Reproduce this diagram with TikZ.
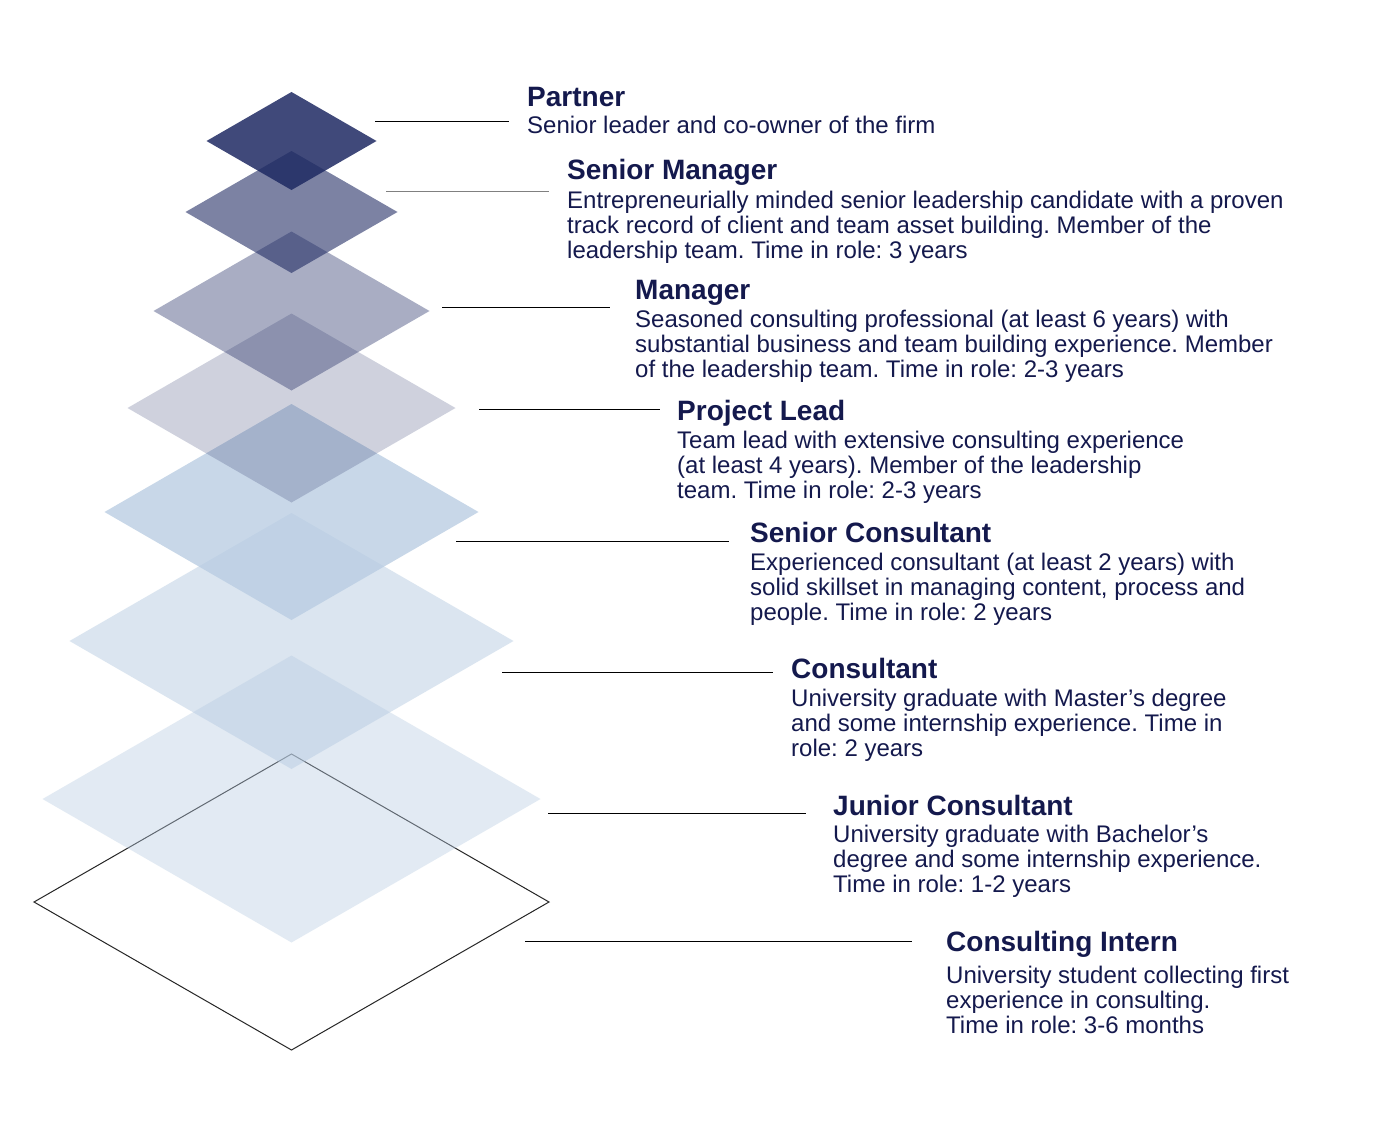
\documentclass[tikz,border=0pt]{standalone}
\usepackage{fontspec}
\setmainfont{Liberation Sans}
\frenchspacing
\definecolor{navy}{HTML}{1F2A63}
\definecolor{steel}{HTML}{B8CCE2}
\definecolor{txt}{HTML}{14194D}
\newcommand\mydiam[5]{\fill[#5] (#1,#2-#4) -- (#1+#3,#2) -- (#1,#2+#4) -- (#1-#3,#2) -- cycle;}
\begin{document}
\begin{tikzpicture}[x=1pt,y=-1pt,
  ttl/.style={anchor=base west,inner sep=0pt,text=txt,font=\fontsize{28}{30}\selectfont\bfseries},
  bdy/.style={anchor=base west,inner sep=0pt,text=txt,align=left,font=\fontsize{24}{25}\selectfont},
  leader/.style={line width=1pt,black},
  outl/.style={draw=black!85,line width=1pt,line join=miter}]
\useasboundingbox (0,0) rectangle (1375,1129);
\fill[white] (0,0) rectangle (1375,1129);
% bottom outline (intern)
\draw[outl] (291.5,754) -- (549,902) -- (291.5,1050) -- (34,902) -- cycle;
% stacked diamonds
\mydiam{291.5}{799}{249}{143.5}{steel,fill opacity=0.4}
\mydiam{291.5}{641}{222}{128}{steel,fill opacity=0.5}
\mydiam{291.5}{512}{187}{108}{steel,fill opacity=0.77}
\mydiam{291.5}{408}{164}{94.5}{navy,fill opacity=0.21}
\mydiam{291.5}{311}{138}{79.5}{navy,fill opacity=0.38}
\mydiam{291.5}{212}{106}{61}{navy,fill opacity=0.585}
\mydiam{291.5}{141}{85}{49}{navy,fill opacity=0.85}
% leader lines
\coordinate (a1) at (375,122);  \coordinate (b1) at (509,122);
\coordinate (a2) at (386,191);  \coordinate (b2) at (549,191);
\coordinate (a3) at (442,307);  \coordinate (b3) at (610,307);
\coordinate (a4) at (479,409);  \coordinate (b4) at (660,409);
\coordinate (a5) at (456,541);  \coordinate (b5) at (729,541);
\coordinate (a6) at (502,672);  \coordinate (b6) at (773,672);
\coordinate (a7) at (548,813);  \coordinate (b7) at (806,813);
\coordinate (a8) at (525,941);  \coordinate (b8) at (912,941);
\draw[leader] (a1) -- (b1);
\draw[leader,draw=black!50] (a2) -- (b2);
\draw[leader] (a3) -- (b3);
\draw[leader] (a4) -- (b4);
\draw[leader] (a5) -- (b5);
\draw[leader] (a6) -- (b6);
\draw[leader] (a7) -- (b7);
\draw[leader] (a8) -- (b8);
% texts (multi-line bodies: base anchor = last line baseline)
\node[ttl] (t1) at (527,107) {Partner};
\node[bdy] (d1) at (527,134) {Senior leader and co-owner of the firm};
\node[ttl] (t2) at (567,179) {Senior Manager};
\node[bdy] (d2) at (567,258) {Entrepreneurially minded senior leadership candidate with a proven\\track record of client and team asset building. Member of the\\leadership team. Time in role: 3 years};
\node[ttl] (t3) at (635,299) {Manager};
\node[bdy] (d3) at (635,377) {Seasoned consulting professional (at least 6 years) with\\substantial business and team building experience. Member\\of the leadership team. Time in role: 2-3 years};
\node[ttl] (t4) at (677,420) {Project Lead};
\node[bdy] (d4) at (677,498) {Team lead with extensive consulting experience\\(at least 4 years). Member of the leadership\\team. Time in role: 2-3 years};
\node[ttl] (t5) at (750,542) {Senior Consultant};
\node[bdy] (d5) at (750,620) {Experienced consultant (at least 2 years) with\\solid skillset in managing content, process and\\people. Time in role: 2 years};
\node[ttl] (t6) at (791,678) {Consultant};
\node[bdy] (d6) at (791,756) {University graduate with Master’s degree\\and some internship experience. Time in\\role: 2 years};
\node[ttl] (t7) at (833,815) {Junior Consultant};
\node[bdy] (d7) at (833,892) {University graduate with Bachelor’s\\degree and some internship experience.\\Time in role: 1-2 years};
\node[ttl] (t8) at (946,951) {Consulting Intern};
\node[bdy] (d8) at (946,1033) {University student collecting first\\experience in consulting.\\Time in role: 3-6 months};
\end{tikzpicture}
\end{document}
